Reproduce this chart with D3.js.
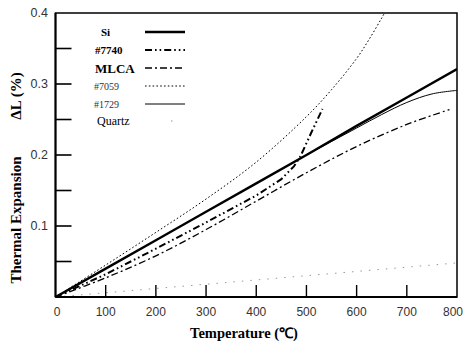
<!DOCTYPE html>
<html><head><meta charset="utf-8">
<script src="https://cdn.jsdelivr.net/npm/d3@7"></script>
<style>body{margin:0;background:#fff}svg{display:block}</style>
</head><body>
<svg id="c" width="464" height="345"></svg>
<script>
// ---- data ----
const seriesNames = ["Si", "#7740", "MLCA", "#7059", "#1729", "Quartz"];
const siT   = [0, 100, 200, 300, 400, 500, 600, 700, 800];
const siV   = [0, 0.040, 0.080, 0.120, 0.160, 0.200, 0.241, 0.281, 0.321];
const g7740T = [0, 100, 200, 300, 400, 450, 475, 488, 510, 532];
const g7740V = [0, 0.032, 0.068, 0.105, 0.143, 0.166, 0.184, 0.198, 0.232, 0.265];
const mlcaT = [0, 100, 200, 300, 400, 500, 600, 700, 785];
const mlcaV = [0, 0.027, 0.058, 0.095, 0.135, 0.175, 0.212, 0.243, 0.264];
const g7059T = [0, 100, 200, 300, 400, 500, 550, 600, 625, 650, 665];
const g7059V = [0, 0.045, 0.091, 0.138, 0.190, 0.254, 0.292, 0.336, 0.363, 0.393, 0.412];
const g1729T = [0, 100, 200, 300, 400, 500, 550, 600, 650, 700, 750, 800];
const g1729V = [0, 0.040, 0.080, 0.120, 0.160, 0.200, 0.219, 0.238, 0.257, 0.274, 0.286, 0.291];
const quartzT = [0, 100, 200, 300, 400, 500, 600, 700, 800];
const quartzV = [0, 0.006, 0.012, 0.018, 0.024, 0.030, 0.036, 0.042, 0.048];
const xTickLabels = [0, 100, 200, 300, 400, 500, 600, 700, 800];
const yTickLabels = [0.1, 0.2, 0.3, 0.4];
const yMinorTicks = [0.05, 0.1, 0.15, 0.2, 0.25, 0.3, 0.35];
const xInnerTicks = [100, 200, 300, 400, 500, 600, 700];

// ---- drawing ----
const svg = d3.select("#c");
const L = 55.5, R = 457, T = 13, B = 297;
const x = d3.scaleLinear().domain([0, 800]).range([L, R]);
const y = d3.scaleLinear().domain([0, 0.4]).range([B, T]);

const styles = {
  "Si":     {w: 2.4, dash: null, c: "#000", curve: d3.curveLinear},
  "#7740":  {w: 2.0, dash: "7,3,1.6,3,1.6,3", c: "#000", curve: d3.curveLinear},
  "MLCA":   {w: 1.3, dash: "7,3,2,3", c: "#000", curve: d3.curveCatmullRom},
  "#7059":  {w: 1.0, dash: "1.6,2.2", c: "#000", curve: d3.curveCatmullRom},
  "#1729":  {w: 1.0, dash: null, c: "#000", curve: d3.curveCatmullRom},
  "Quartz": {w: 1.0, dash: "1.5,7", c: "#999", curve: d3.curveLinear}
};
const seriesData = {
  "Si": [siT, siV], "#7740": [g7740T, g7740V], "MLCA": [mlcaT, mlcaV],
  "#7059": [g7059T, g7059V], "#1729": [g1729T, g1729V], "Quartz": [quartzT, quartzV]
};

svg.append("clipPath").attr("id", "clip").append("rect")
  .attr("x", L).attr("y", T).attr("width", R - L).attr("height", B - T);

const plot = svg.append("g").attr("clip-path", "url(#clip)");
["Quartz", "#7059", "MLCA", "#7740", "#1729", "Si"].forEach(n => {
  const [ts, vs] = seriesData[n];
  const s = styles[n];
  const line = d3.line().x(d => x(d[0])).y(d => y(d[1])).curve(s.curve);
  plot.append("path").datum(ts.map((t, i) => [t, vs[i]]))
    .attr("d", line).attr("fill", "none").attr("stroke", s.c)
    .attr("stroke-width", s.w).attr("stroke-dasharray", s.dash)
    .attr("stroke-linejoin", "miter");
});

// frame
svg.append("rect").attr("x", L).attr("y", T).attr("width", R - L).attr("height", B - T)
  .attr("fill", "none").attr("stroke", "#000").attr("stroke-width", 1.5);
svg.append("line").attr("x1", L).attr("x2", L).attr("y1", T).attr("y2", B)
  .attr("stroke", "#000").attr("stroke-width", 2);
svg.append("line").attr("x1", L).attr("x2", R).attr("y1", B).attr("y2", B)
  .attr("stroke", "#000").attr("stroke-width", 2);

// y ticks (inward)
svg.append("g").selectAll("line").data(yMinorTicks).join("line")
  .attr("x1", L).attr("x2", L + 16).attr("y1", d => y(d)).attr("y2", d => y(d))
  .attr("stroke", "#000").attr("stroke-width", 1.6);
svg.append("g").selectAll("text").data(yTickLabels).join("text")
  .attr("x", 48).attr("y", d => y(d)).attr("dy", "0.35em")
  .attr("text-anchor", "end").attr("font-family", "Liberation Sans, Arial, sans-serif")
  .attr("font-size", 12.5).attr("fill", "#333").text(d => d3.format(".1f")(d));

// x ticks (inward)
svg.append("g").selectAll("line").data(xInnerTicks).join("line")
  .attr("x1", d => x(d)).attr("x2", d => x(d)).attr("y1", B).attr("y2", B - 12)
  .attr("stroke", "#000").attr("stroke-width", 1.4);
svg.append("g").selectAll("text").data(xTickLabels).join("text")
  .attr("x", d => d === 800 ? 463 : x(d) + (d === 0 ? 1.5 : 0)).attr("y", 316)
  .attr("text-anchor", d => d === 800 ? "end" : "middle")
  .attr("font-family", "Liberation Sans, Arial, sans-serif")
  .attr("font-size", 12).attr("fill", "#333").text(d => d);

// axis titles
svg.append("text").attr("x", 244).attr("y", 338).attr("text-anchor", "middle")
  .attr("font-family", "Liberation Serif, Times New Roman, serif").attr("font-weight", "bold")
  .attr("font-size", 14.5).text("Temperature (℃)");
svg.append("text").attr("transform", "translate(21,220) rotate(-90)").attr("text-anchor", "middle")
  .attr("font-family", "Liberation Serif, Times New Roman, serif").attr("font-weight", "bold")
  .attr("font-size", 15).text("Thermal Expansion");
svg.append("text").attr("transform", "translate(21,96) rotate(-90)").attr("text-anchor", "middle")
  .attr("font-family", "Liberation Serif, Times New Roman, serif").attr("font-weight", "bold")
  .attr("font-size", 15).text("ΔL (%)");

// legend
const legY = [32, 50, 68, 86, 104, 121];
const legTextX = [101, 95, 95, 94, 94, 97];
const legFont = [
  {s: 11, w: "bold", c: "#000"}, {s: 11, w: "bold", c: "#000"}, {s: 13, w: "bold", c: "#000"},
  {s: 10, w: "normal", c: "#333"}, {s: 10, w: "normal", c: "#333"}, {s: 12, w: "normal", c: "#000"}
];
const leg = svg.append("g");
seriesNames.forEach((n, i) => {
  const f = legFont[i];
  leg.append("text").attr("x", legTextX[i]).attr("y", legY[i]).attr("dy", "0.35em")
    .attr("font-family", "Liberation Serif, Times New Roman, serif")
    .attr("font-size", f.s).attr("font-weight", f.w).attr("fill", f.c).text(n);
  const s = styles[n];
  if (n === "Quartz") {
    leg.append("line").attr("x1", 171).attr("x2", 172.5).attr("y1", legY[i]).attr("y2", legY[i])
      .attr("stroke", "#999").attr("stroke-width", 1);
  } else {
    leg.append("line").attr("x1", 145).attr("x2", 185).attr("y1", legY[i]).attr("y2", legY[i])
      .attr("stroke", s.c).attr("stroke-width", s.w).attr("stroke-dasharray", s.dash);
  }
});
</script>
</body></html>
